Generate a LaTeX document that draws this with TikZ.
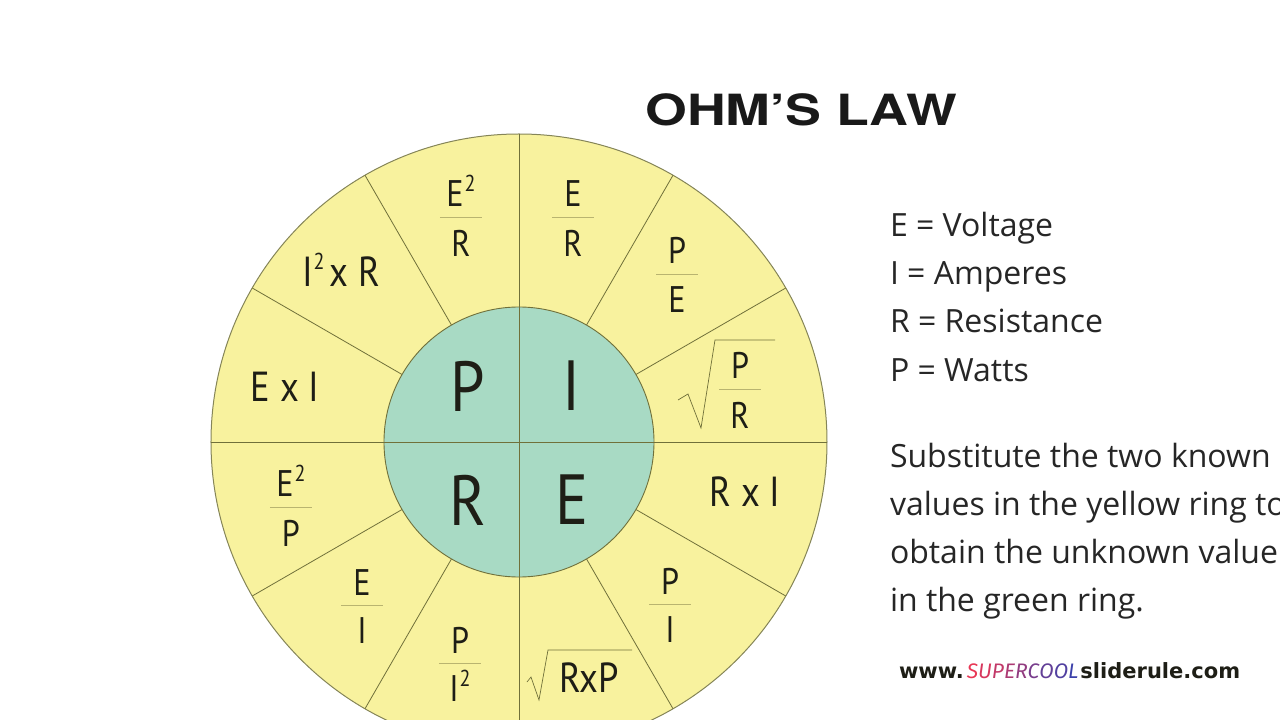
\documentclass[tikz,border=0pt]{standalone}
\usepackage{fontspec}
\setmainfont{Open Sans}
\newfontfamily\wheelfont[FakeStretch=0.87]{PT Sans}
\newfontfamily\titlefont[FakeStretch=1.25]{TeX Gyre Heros}
\newfontfamily\webfont{DejaVu Sans}
\newfontfamily\supfont{Fira Sans}
\usepackage{xcolor}
\usepackage{tikz}
\usetikzlibrary{positioning}

\definecolor{ringyellow}{RGB}{248,242,158}
\definecolor{ringgreen}{RGB}{168,218,196}
\definecolor{spokecol}{RGB}{112,112,58}
\definecolor{barcol}{RGB}{185,180,112}
\definecolor{inkcol}{RGB}{30,30,22}
\definecolor{superred}{RGB}{232,55,85}
\definecolor{superblue}{RGB}{60,65,170}

% small raised two
\newcommand{\sqr}{\smash{\hspace{1pt}\raisebox{0.42em}{\fontsize{23}{23}\selectfont 2}}}

\begin{document}
\begin{tikzpicture}[x=1pt, y=1pt, inner sep=0pt, outer sep=0pt, text=inkcol]
    \tikzstyle{spoke} = [draw=spokecol, line width=0.8pt]
    \tikzstyle{bar} = [draw=barcol, line width=0.9pt]
    \tikzstyle{root} = [draw=spokecol, line width=0.7pt, line join=miter]
    \tikzstyle{core} = [font=\wheelfont\fontsize{71}{71}\selectfont]
    \tikzstyle{term} = [font=\wheelfont\fontsize{42}{42}\selectfont]
    \tikzstyle{part} = [font=\wheelfont\fontsize{37}{37}\selectfont]
    \tikzstyle{legend} = [anchor=base west, font=\fontsize{32}{32}\selectfont, text=black!85]

    \useasboundingbox (-519,-278) rectangle (761,442);
    \clip (-519,-278) rectangle (761,442);

    % wheel
    \fill[ringyellow, draw=spokecol!85, line width=1pt] (0,0) circle (308);
    \foreach \a in {30,60,120,150,210,240,300,330}
        \draw[spoke] (\a:135) -- (\a:308);
    \fill[ringgreen, draw=spokecol, line width=0.9pt] (0,0) circle (135);
    \draw[spoke] (-308,0) -- (308,0);
    \draw[spoke] (0,-308) -- (0,308);

    % green ring
    \node[core] (P) at (-51,56) {P};
    \node[core] (I) at (52,56) {I};
    \node[core] (R) at (-51,-58) {R};
    \node[core] (E) at (53,-58) {E};

    % yellow ring, plain terms
    \node[term] (EI) at (-234,55) {E x I};
    \node[term] (IIR) at (-178,170) {I\sqr\hspace{5pt}x R};
    \node[term] (RI) at (226,-50) {R x I};
    \node[term] (RP) at (70,-236) {RxP};

    % yellow ring, fractions
    \foreach \x/\y/\num/\den/\n in {-58/225/E\sqr/R/ER2, 54/225/E/R/ER,
        158/168/P/E/PE, 221/53/P/R/PR, 151/-162/P/I/PI, -59/-221/P/I\sqr/PI2,
        -157/-163/E/I/EI2, -228/-65/E\sqr/P/EP2} {
        \coordinate (f\n) at (\x,\y);
        \draw[bar] ([xshift=-21pt]f\n) -- ([xshift=21pt]f\n);
        \node[part, above=10pt of f\n] (n\n) {\num};
        \node[part, below=13pt of f\n] (d\n) {\den};
    }

    % roots
    \draw[root] (159,42) -- (169,48) -- (182,14) -- (196,102) -- (256,102);
    \draw[root] (8,-240) -- (12,-235) -- (20,-258) -- (29,-208) -- (113,-208);

    % title and key
    \node[anchor=base, font=\titlefont\bfseries\fontsize{43}{43}\selectfont, text=black!90] (title) at (282,316) {OHM’S LAW};
    \node[legend] (kE) at (371,205) {E = Voltage};
    \node[legend] (kI) at (371,157) {I = Amperes};
    \node[legend] (kR) at (371,109) {R = Resistance};
    \node[legend] (kP) at (371,60) {P = Watts};
    \node[legend] (t1) at (371,-26) {Substitute the two known};
    \node[legend] (t2) at (371,-73) {values in the yellow ring to};
    \node[legend] (t3) at (371,-121) {obtain the unknown value};
    \node[legend] (t4) at (371,-169) {in the green ring.};

    \node[anchor=base west, font=\fontsize{21}{21}\selectfont] (web) at (380,-236)
        {{\webfont\bfseries www.}\hspace{3pt}{\supfont\itshape\fontsize{21}{21}\selectfont
        \textcolor{superred}{S}\textcolor{superred!90!superblue}{U}\textcolor{superred!78!superblue}{P}\textcolor{superred!65!superblue}{E}\textcolor{superred!50!superblue}{R}\textcolor{superred!35!superblue}{C}\textcolor{superred!22!superblue}{O}\textcolor{superred!12!superblue}{O}\textcolor{superblue}{L}}\hspace{2pt}{\webfont\bfseries sliderule.com}};
\end{tikzpicture}
\end{document}
